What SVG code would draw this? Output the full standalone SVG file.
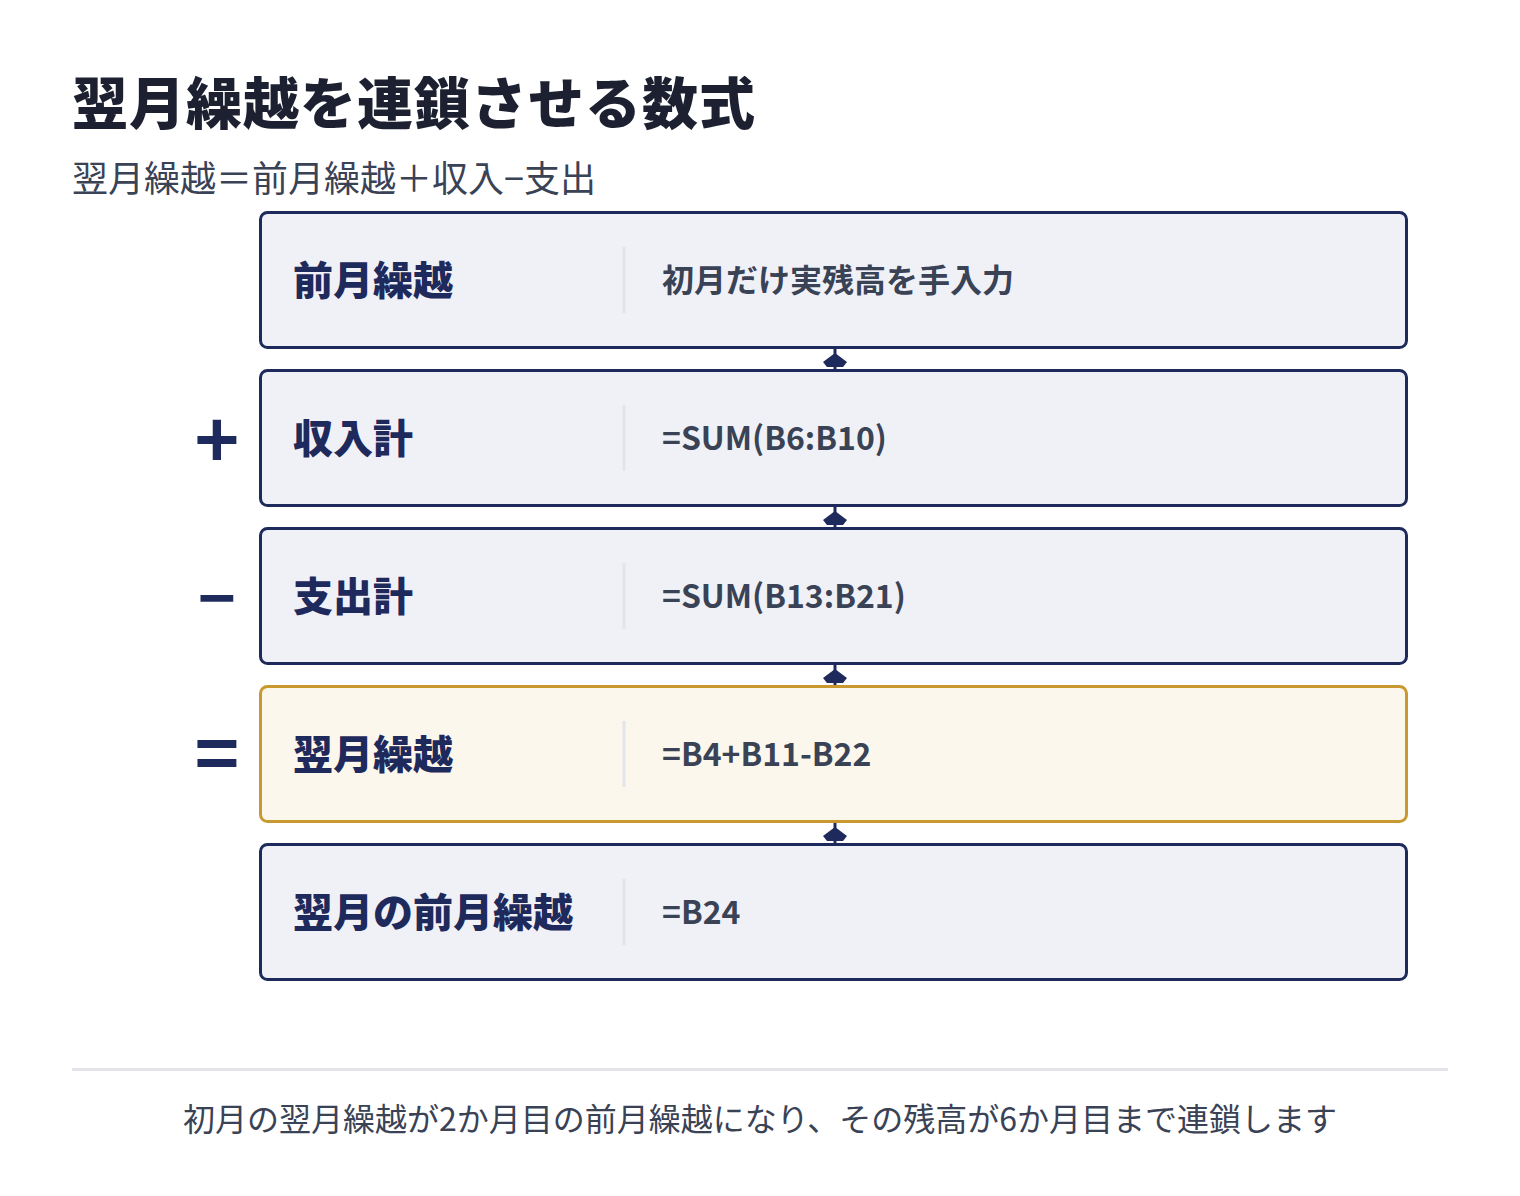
<svg xmlns="http://www.w3.org/2000/svg" width="1520" height="1196" viewBox="0 0 1520 1196">
<style>
.bg{fill:#ffffff}
.box{fill:#f0f1f7;stroke:#1f2a5c;stroke-width:3}
.hl{fill:#fbf7ec;stroke:#c9992f;stroke-width:3}
.div{stroke:#e2e4ea;stroke-width:3}
.t{font-family:"Noto Sans CJK JP","Noto Sans",sans-serif}
.title{font-size:56px;font-weight:900;fill:#1c2030;letter-spacing:1px}
.sub{font-size:36px;font-weight:400;fill:#3a4255}
.lab{font-size:40px;font-weight:900;fill:#1f2a5c}
.val{font-size:32px;font-weight:700;fill:#3a4255}
.op{font-weight:700;fill:#1f2a5c;text-anchor:middle}
.foot{font-size:32px;font-weight:400;fill:#3a4255;text-anchor:middle}
.conn{stroke:#1f2a5c;stroke-width:3}
.head{fill:#1f2a5c}
</style>
<rect class="bg" x="0" y="0" width="1520" height="1196"/>
<text class="t title" x="72" y="124">翌月繰越を連鎖させる数式</text>
<text class="t sub" x="72" y="192">翌月繰越＝前月繰越＋収入−支出</text>

<g id="connectors">
  <line class="conn" x1="835" y1="349" x2="835" y2="369"/>
  <polygon class="head" points="835,353 847,362 843,367 827,367 823,362"/>
  <line class="conn" x1="835" y1="507" x2="835" y2="527"/>
  <polygon class="head" points="835,511 847,520 843,525 827,525 823,520"/>
  <line class="conn" x1="835" y1="665" x2="835" y2="685"/>
  <polygon class="head" points="835,669 847,678 843,683 827,683 823,678"/>
  <line class="conn" x1="835" y1="823" x2="835" y2="843"/>
  <polygon class="head" points="835,827 847,836 843,841 827,841 823,836"/>
</g>

<g id="node-prev">
  <rect class="box" x="260.5" y="212.5" width="1146" height="135" rx="7"/>
  <line class="div" x1="624" y1="247" x2="624" y2="313"/>
  <text class="t lab" x="293" y="295">前月繰越</text>
  <text class="t val" x="662" y="292">初月だけ実残高を手入力</text>
</g>
<g id="node-income">
  <text class="t op" x="217" y="468" font-size="76">+</text>
  <rect class="box" x="260.5" y="370.5" width="1146" height="135" rx="7"/>
  <line class="div" x1="624" y1="405" x2="624" y2="471"/>
  <text class="t lab" x="293" y="453">収入計</text>
  <text class="t val" x="662" y="450">=SUM(B6:B10)</text>
</g>
<g id="node-expense">
  <text class="t op" x="217" y="622" font-size="64">−</text>
  <rect class="box" x="260.5" y="528.5" width="1146" height="135" rx="7"/>
  <line class="div" x1="624" y1="563" x2="624" y2="629"/>
  <text class="t lab" x="293" y="611">支出計</text>
  <text class="t val" x="662" y="608">=SUM(B13:B21)</text>
</g>
<g id="node-next">
  <text class="t op" x="217" y="782" font-size="76">=</text>
  <rect class="hl" x="260.5" y="686.5" width="1146" height="135" rx="7"/>
  <line class="div" x1="624" y1="721" x2="624" y2="787"/>
  <text class="t lab" x="293" y="769">翌月繰越</text>
  <text class="t val" x="662" y="766">=B4+B11-B22</text>
</g>
<g id="node-nextprev">
  <rect class="box" x="260.5" y="844.5" width="1146" height="135" rx="7"/>
  <line class="div" x1="624" y1="879" x2="624" y2="945"/>
  <text class="t lab" x="293" y="927">翌月の前月繰越</text>
  <text class="t val" x="662" y="924">=B24</text>
</g>

<line class="div" x1="72" y1="1069.5" x2="1448" y2="1069.5"/>
<text class="t foot" x="760" y="1131">初月の翌月繰越が2か月目の前月繰越になり、その残高が6か月目まで連鎖します</text>
</svg>
